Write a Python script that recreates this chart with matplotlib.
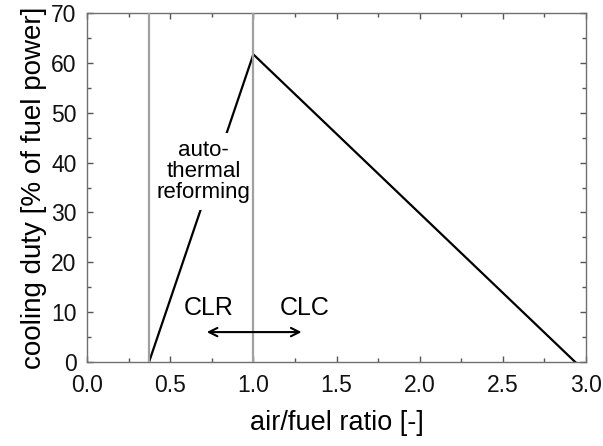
import matplotlib
matplotlib.use("Agg")
import matplotlib.pyplot as plt
from matplotlib.ticker import MultipleLocator

plt.rcParams['font.family'] = ['Liberation Sans', 'DejaVu Sans']

# Data
air_fuel = [0.373, 1.0, 2.935]
cooling_duty = [0.0, 61.7, 0.0]
vlines_x = [0.373, 1.0]
arrow_x = [0.72, 1.29]
arrow_y = 6.0
xticks = [0.0, 0.5, 1.0, 1.5, 2.0, 2.5, 3.0]
yticks = [0, 10, 20, 30, 40, 50, 60, 70]

fig = plt.figure(figsize=(6.03, 4.46), dpi=100)
ax = fig.add_axes([87/603, 1 - 362/446, (586-87)/603, (362-13)/446])

for xv in vlines_x:
    ax.axvline(xv, color='#a0a0a0', lw=1.6, zorder=4)

ax.plot(air_fuel, cooling_duty, color='black', lw=1.6, zorder=2)

ax.text(0.70, 38.2, 'auto-\nthermal\nreforming', ha='center', va='center',
        fontsize=16, linespacing=1.0, zorder=3,
        bbox=dict(boxstyle='square,pad=0.3', fc='white', ec='none'))

ax.annotate('', xy=(arrow_x[0], arrow_y), xytext=(arrow_x[1], arrow_y),
            arrowprops=dict(arrowstyle='<->', color='black', lw=1.5,
                            mutation_scale=15, shrinkA=0, shrinkB=0), zorder=5)
ax.text(0.73, 10.8, 'CLR', ha='center', va='center', fontsize=18)
ax.text(1.31, 10.8, 'CLC', ha='center', va='center', fontsize=18)

ax.set_xlim(0, 3.0)
ax.set_ylim(0, 70)
ax.set_xticks(xticks)
ax.set_yticks(yticks)
ax.set_xticklabels([f'{v:.1f}' for v in xticks])
ax.set_yticklabels([str(v) for v in yticks])
ax.xaxis.set_minor_locator(MultipleLocator(0.25))
ax.yaxis.set_minor_locator(MultipleLocator(5))
ax.tick_params(which='both', direction='in', top=True, right=True,
               color='#555555', labelsize=16.5, width=1.0, labelcolor='#111111')
ax.tick_params(which='major', length=4)
ax.tick_params(axis='x', which='major', pad=9)
ax.tick_params(axis='y', which='major', pad=7.5)
ax.tick_params(which='minor', length=3)
for s in ax.spines.values():
    s.set_color('#707070')
    s.set_linewidth(1.0)

ax.set_xlabel('air/fuel ratio [-]', fontsize=19.5, labelpad=9)
ax.set_ylabel('cooling duty [% of fuel power]', fontsize=20, labelpad=3)

fig.savefig('out.png', dpi=100)
